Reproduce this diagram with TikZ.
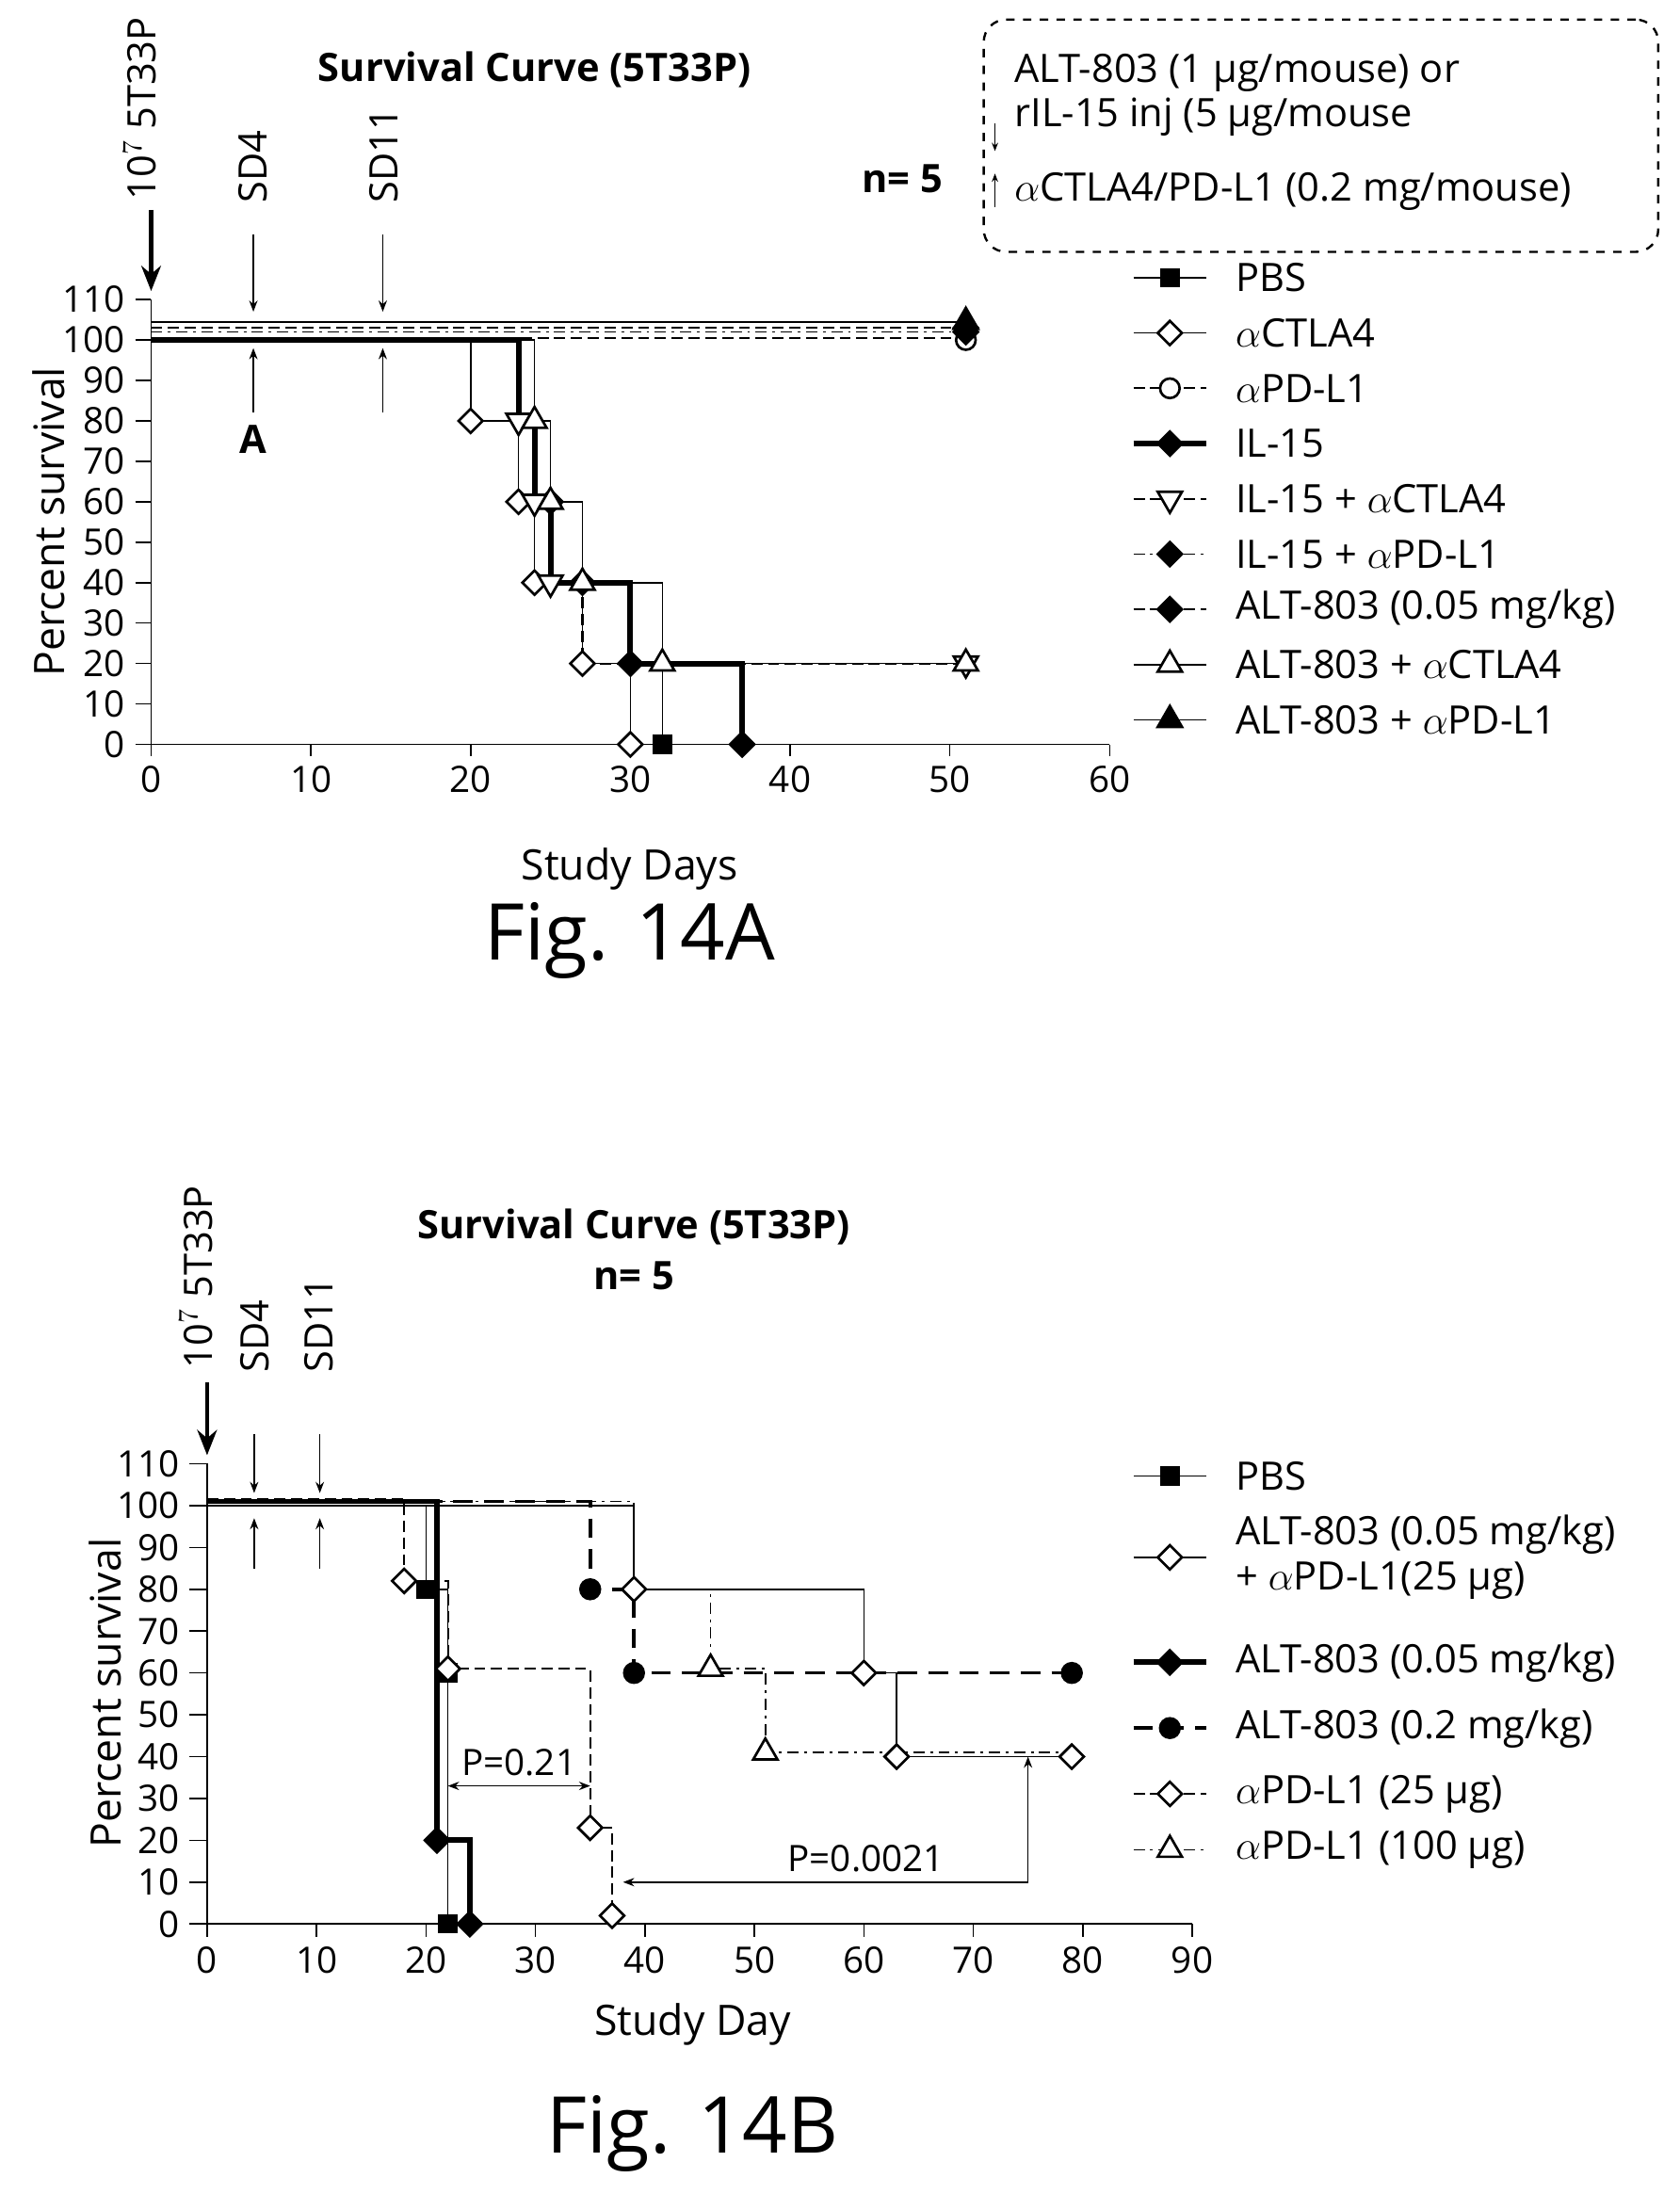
\documentclass[tikz,border=0pt]{standalone}
\usepackage{fontspec}
\setmainfont{Open Sans}
\usetikzlibrary{shapes.geometric, arrows.meta}
\begin{document}
\begin{tikzpicture}
        [
            x=0.5pt, y=0.5pt,
            tick/.style={font=\fontsize{13}{14}\selectfont},
            lab/.style={font=\fontsize{14}{16}\selectfont, anchor=west},
            mk/.style={draw, fill=white, line width=0.9pt, inner sep=0pt, minimum size=7pt},
            osq/.style={mk, rectangle, fill=black, minimum size=6pt},
            odia/.style={mk, diamond, minimum size=9pt},
            fdia/.style={odia, fill=black},
            ocirc/.style={mk, circle},
            fcirc/.style={ocirc, fill=black},
            tup/.style={mk, regular polygon, regular polygon sides=3, minimum size=10pt},
            ftup/.style={tup, fill=black},
            tdn/.style={tup, shape border rotate=180},
            thin/.style={line width=0.5pt},
            thick/.style={line width=2pt},
            dsh/.style={line width=0.7pt, dash pattern=on 4pt off 2pt},
            ldsh/.style={line width=1.2pt, dash pattern=on 7pt off 4pt},
            ddot/.style={line width=0.6pt, dash pattern=on 4pt off 2pt on 1pt off 2pt}
        ]
        \useasboundingbox (0,0) rectangle (1200,-1568);
        % ---------- Fig. 14A ----------
        \node (titA) [font=\bfseries\fontsize{14}{16}\selectfont] at (382,-50) {Survival Curve (5T33P)};
        \node (nA) [font=\bfseries\fontsize{14}{16}\selectfont] at (645,-128) {n= 5};
        \node (box) [draw, dashed, rounded corners=8pt, minimum width=482pt/2, minimum height=166pt/2,
                     line width=0.8pt] at (944,-97) {};
        \node (boxt) [lab, align=left] at (718,-68) {ALT-803 (1 µg/mouse) or\\rIL-15 inj (5 µg/mouse};
        \node (boxb) [lab] at (718,-137) {$\alpha$CTLA4/PD-L1 (0.2 mg/mouse)};
        \draw [-{Stealth[length=3pt]}, thin] (711,-88) -- (711,-108);
        \draw [-{Stealth[length=3pt]}, thin] (711,-148) -- (711,-124);
        \node (injA) [rotate=90, anchor=west, font=\fontsize{14}{16}\selectfont] at (100,-150) {10$^7$ 5T33P};
        \node (sd4A) [rotate=90, anchor=west, font=\fontsize{14}{16}\selectfont] at (181,-152) {SD4};
        \node (sd11A) [rotate=90, anchor=west, font=\fontsize{14}{16}\selectfont] at (274,-152) {SD11};
        \coordinate (injAend) at (108,-208);
        \draw [-{Stealth[length=9pt,width=7pt]}, line width=1.5pt] (108,-150) -- (injAend);
        \node (aA) [font=\bfseries\fontsize{14}{16}\selectfont] at (181,-314) {A};
        \begin{scope}[shift={(108,-532)}, x=5.708pt, y=1.445pt]
            \draw [thin] (0,110) -- (0,0) -- (60,0);
            \foreach \v in {0,10,...,110} {
                \draw [thin] (-1,\v) -- (0,\v);
                \node [tick, anchor=east] at (-1,\v) {\v};
            }
            \foreach \d in {0,10,...,60} {
                \draw [thin] (\d,0) -- (\d,-3);
                \node [tick, anchor=north] at (\d,-3) {\d};
            }
            \foreach \d in {6.4,14.5} {
                \draw [-{Stealth[length=4pt]}, thin] (\d,126) -- (\d,107);
                \draw [-{Stealth[length=4pt]}, thin] (\d,82) -- (\d,98);
            }
            % curves
            \draw [line width=0.5pt] (0,104.5) -- (51,104.5);
            \draw [dsh] (0,103) -- (51,103);
            \draw [ddot] (0,102) -- (51,102);
            \draw [dsh] (0,100.5) -- (51,100.5);
            \draw [thin] (0,100) -| (20,80) -| (23,60) -| (24,40) -| (27,20) -| (30,0);
            \draw [thin] (0,100) -| (24,60) -| (25,40) -| (30,20) -| (32,0);
            \draw [thick] (0,100) -| (23,80) -| (24,60) -| (25,40) -| (30,20) -| (37,0);
            \draw [dsh] (0,100) -| (23,80) -| (24,60) -| (25,40) -| (27,20) -- (51,20);
            \draw [thin] (0,100) -| (24,80) -| (25,60) -| (27,40) -| (32,20) -- (51,20);
            \node (a1) [osq] at (32,0) {};
            \foreach \p [count=\i] in {(20,80),(23,60),(24,40),(27,20),(30,0)}
                \node (a2-\i) [odia] at \p {};
            \node (a3) [ocirc] at (51,100) {};
            \foreach \p [count=\i] in {(37,0),(30,20),(25,60),(27,40)}
                \node (a4-\i) [fdia] at \p {};
            \foreach \p [count=\i] in {(23,80),(24,60),(25,40),(51,20)}
                \node (a5-\i) [tdn] at \p {};
            \node (a6) [fdia] at (51,102) {};
            \node (a7) [fdia] at (51,103) {};
            \foreach \p [count=\i] in {(24,80),(25,60),(27,40),(32,20),(51,20)}
                \node (a8-\i) [tup] at \p {};
            \node (a9) [ftup] at (51,104.5) {};
        \end{scope}
        \node (ylA) [rotate=90, font=\fontsize{15}{17}\selectfont] at (35,-373) {Percent survival};
        \node (xlA) [font=\fontsize{15}{17}\selectfont] at (450,-621) {Study Days};
        \node (figA) [font=\fontsize{28}{31}\selectfont] at (450,-672) {Fig. 14A};
        % legend A
        \foreach \s/\m/\t [count=\i] in {
            thin/osq/PBS, thin/odia/$\alpha$CTLA4, dsh/ocirc/$\alpha$PD-L1, thick/fdia/IL-15,
            dsh/tdn/IL-15 + $\alpha$CTLA4, ddot/fdia/IL-15 + $\alpha$PD-L1,
            dsh/fdia/{ALT-803 (0.05 mg/kg)}, thin/tup/ALT-803 + $\alpha$CTLA4,
            thin/ftup/ALT-803 + $\alpha$PD-L1} {
            \draw [\s] (810,-159-\i*39.5) -- (862,-159-\i*39.5);
            \node (la\i) [\m] at (836,-159-\i*39.5) {};
            \node (ta\i) [lab] at (876,-159-\i*39.5) {\t};
        }
        % ---------- Fig. 14B ----------
        \node (titB) [font=\bfseries\fontsize{14}{16}\selectfont] at (453,-877) {Survival Curve (5T33P)};
        \node (nB) [font=\bfseries\fontsize{14}{16}\selectfont] at (453,-912) {n= 5};
        \node (injB) [rotate=90, anchor=west, font=\fontsize{14}{16}\selectfont] at (140,-985) {10$^7$ 5T33P};
        \node (sd4B) [rotate=90, anchor=west, font=\fontsize{14}{16}\selectfont] at (182,-988) {SD4};
        \node (sd11B) [rotate=90, anchor=west, font=\fontsize{14}{16}\selectfont] at (228,-988) {SD11};
        \coordinate (injBend) at (148,-1040);
        \draw [-{Stealth[length=9pt,width=7pt]}, line width=1.5pt] (148,-988) -- (injBend);
        \begin{scope}[shift={(148,-1375)}, x=3.911pt, y=1.495pt]
            \draw [thin] (0,110) -- (0,0) -- (90,0);
            \foreach \v in {0,10,...,110} {
                \draw [thin] (-1.6,\v) -- (0,\v);
                \node [tick, anchor=east] at (-1.6,\v) {\v};
            }
            \foreach \d in {0,10,...,90} {
                \draw [thin] (\d,0) -- (\d,-3);
                \node [tick, anchor=north] at (\d,-3) {\d};
            }
            \draw [-{Stealth[length=4pt]}, thin] (4.3,117) -- (4.3,103);
            \draw [-{Stealth[length=4pt]}, thin] (10.3,117) -- (10.3,103);
            \draw [-{Stealth[length=4pt]}, thin] (4.3,85) -- (4.3,97);
            \draw [-{Stealth[length=4pt]}, thin] (10.3,85) -- (10.3,97);
            % curves
            \draw [thin] (0,100) -| (20,80) -| (22,60) -| (22,0);
            \draw [thin] (0,100) -| (39,80) -| (60,60) -| (63,40) -- (79,40);
            \draw [thick] (0,101) -| (21,20) -| (24,0);
            \draw [ldsh] (0,101) -| (35,80) -| (39,60) -- (79,60);
            \draw [dsh] (0,101.5) -| (18,82) -| (22,61) -| (35,23) -| (37,2);
            \draw [ddot] (0,101) -| (39,80) -| (46,61) -| (51,41) -- (79,41);
            \node (b1-1) [osq] at (20,80) {};
            \node (b1-2) [osq] at (22,60) {};
            \node (b1-3) [osq] at (22,0) {};
            \foreach \p [count=\i] in {(39,80),(60,60),(63,40),(79,40)}
                \node (b2-\i) [odia] at \p {};
            \node (b3-1) [fdia] at (21,20) {};
            \node (b3-2) [fdia] at (24,0) {};
            \foreach \p [count=\i] in {(35,80),(39,60),(79,60)}
                \node (b4-\i) [fcirc] at \p {};
            \foreach \p [count=\i] in {(18,82),(22,61),(35,23),(37,2)}
                \node (b5-\i) [odia] at \p {};
            \foreach \p [count=\i] in {(46,61),(51,41)}
                \node (b6-\i) [tup] at \p {};
            % p-values
            \coordinate (p1l) at (22,33);
            \coordinate (p1r) at (35,33);
            \draw [{Stealth[length=4pt]}-{Stealth[length=4pt]}, thin] (p1l) -- node (p1) [above, font=\fontsize{13}{15}\selectfont] {P=0.21} (p1r);
            \coordinate (p2a) at (38,10);
            \coordinate (p2b) at (75,40);
            \draw [{Stealth[length=4pt]}-{Stealth[length=4pt]}, thin] (p2a) -| node (p2) [pos=0.3, above, font=\fontsize{13}{15}\selectfont] {P=0.0021} (p2b);
        \end{scope}
        \node (ylB) [rotate=90, font=\fontsize{15}{17}\selectfont] at (75,-1210) {Percent survival};
        \node (xlB) [font=\fontsize{15}{17}\selectfont] at (495,-1447) {Study Day};
        \node (figB) [font=\fontsize{28}{31}\selectfont] at (495,-1525) {Fig. 14B};
        % legend B
        \foreach \s/\m/\y/\t in {
            thin/osq/1055/PBS, thin/odia/1113/{ALT-803 (0.05 mg/kg)\\+ $\alpha$PD-L1(25 µg)},
            thick/fdia/1188/{ALT-803 (0.05 mg/kg)}, ldsh/fcirc/1235/{ALT-803 (0.2 mg/kg)},
            dsh/odia/1282/$\alpha$PD-L1 (25 µg), ddot/tup/1322/$\alpha$PD-L1 (100 µg)} {
            \draw [\s] (810,-\y) -- (862,-\y);
            \node (lb\y) [\m] at (836,-\y) {};
            \node (tb\y) [lab, align=left] at (876,-\y) {\t};
        }
\end{tikzpicture}
\end{document}
